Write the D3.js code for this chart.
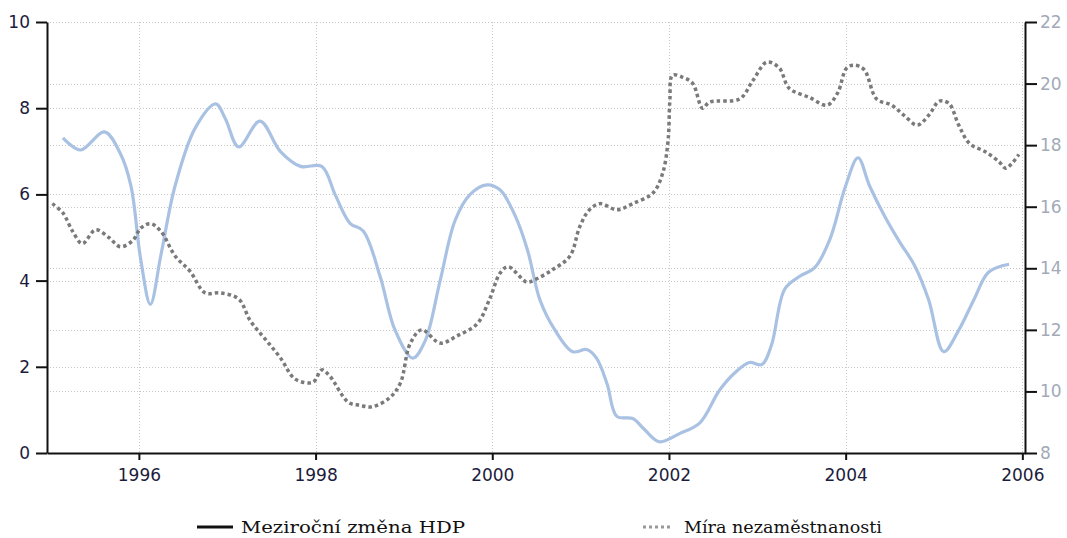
<!DOCTYPE html>
<html>
<head>
<meta charset="utf-8">
<script src="https://cdn.jsdelivr.net/npm/d3@7"></script>
<style>
  body { margin: 0; background: #fff; }
  svg { display: block; }
  .tick text { font-family: "DejaVu Sans", Verdana, sans-serif; }
</style>
</head>
<body>
<div id="chart"></div>
<script>
// data: [decimal year, value]
const gdpYears = [1995.14, 1995.34, 1995.61, 1995.79, 1995.91, 1996.02, 1996.13, 1996.25, 1996.41, 1996.64,
  1996.87, 1996.98, 1997.13, 1997.37, 1997.60, 1997.83, 1998.07, 1998.22, 1998.39, 1998.54,
  1998.73, 1998.90, 1999.10, 1999.24, 1999.41, 1999.58, 1999.75, 1999.94, 2000.09, 2000.26,
  2000.40, 2000.54, 2000.71, 2000.91, 2001.07, 2001.18, 2001.30, 2001.41, 2001.59, 2001.72,
  2001.89, 2002.12, 2002.35, 2002.57, 2002.74, 2002.91, 2003.05, 2003.16, 2003.31, 2003.48,
  2003.65, 2003.82, 2004.00, 2004.14, 2004.27, 2004.44, 2004.61, 2004.78, 2004.94, 2005.11,
  2005.28, 2005.45, 2005.62, 2005.85];
const gdpValues = [7.31, 7.03, 7.45, 6.95, 6.2, 4.5, 3.45, 4.6, 6.2, 7.55,
  8.1, 7.75, 7.1, 7.7, 7.0, 6.65, 6.65, 6.0, 5.33, 5.15,
  4.1, 2.85, 2.2, 2.6, 4.0, 5.4, 6.0, 6.22, 6.1, 5.5,
  4.7, 3.55, 2.85, 2.35, 2.4, 2.2, 1.6, 0.85, 0.8, 0.55,
  0.26, 0.45, 0.7, 1.45, 1.85, 2.1, 2.05, 2.5, 3.8, 4.1,
  4.3, 4.95, 6.2, 6.85, 6.2, 5.5, 4.9, 4.35, 3.55, 2.35,
  2.85, 3.55, 4.2, 4.38];

const unempYears = [1995.02, 1995.14, 1995.25, 1995.36, 1995.51, 1995.66, 1995.79, 1995.93, 1996.02, 1996.13,
  1996.25, 1996.41, 1996.58, 1996.75, 1996.92, 1997.13, 1997.26, 1997.43, 1997.60, 1997.77,
  1997.97, 1998.07, 1998.16, 1998.37, 1998.50, 1998.64, 1998.84, 1998.96, 1999.07, 1999.20,
  1999.41, 1999.60, 1999.83, 1999.97, 2000.09, 2000.18, 2000.39, 2000.46, 2000.68, 2000.88,
  2000.99, 2001.10, 2001.22, 2001.41, 2001.59, 2001.82, 2001.93, 2001.99, 2002.01, 2002.04,
  2002.16, 2002.27, 2002.38, 2002.46, 2002.80, 2002.95, 2003.11, 2003.25, 2003.36, 2003.59,
  2003.79, 2003.91, 2004.01, 2004.10, 2004.21, 2004.35, 2004.52, 2004.66, 2004.81, 2004.94,
  2005.06, 2005.17, 2005.28, 2005.40, 2005.59, 2005.74, 2005.81, 2005.88, 2005.96];
const unempValues = [16.1, 15.8, 15.2, 14.8, 15.25, 15.0, 14.7, 14.9, 15.3, 15.45,
  15.2, 14.4, 13.9, 13.2, 13.2, 13.0, 12.3, 11.7, 11.1, 10.4,
  10.3, 10.7, 10.5, 9.65, 9.55, 9.5, 9.8, 10.27, 11.55, 12.0,
  11.57, 11.8, 12.2, 13.0, 13.85, 14.05, 13.55, 13.6, 13.95, 14.4,
  15.35, 15.9, 16.1, 15.9, 16.1, 16.45, 17.1, 18.15, 19.45, 20.27,
  20.2, 20.0, 19.2, 19.4, 19.5, 20.1, 20.7, 20.5, 19.85, 19.55,
  19.3, 19.7, 20.5, 20.6, 20.45, 19.5, 19.3, 18.97, 18.65, 18.97,
  19.43, 19.35, 18.65, 18.06, 17.77, 17.45, 17.25, 17.4, 17.7];

const yearTicks = [1996, 1998, 2000, 2002, 2004, 2006];
const leftTicks = [0, 2, 4, 6, 8, 10];
const rightTicks = [8, 10, 12, 14, 16, 18, 20, 22];
const legendLabels = ["Meziroční změna HDP", "Míra nezaměstnanosti"];

const gdpData = gdpYears.map((y, i) => ({ year: y, value: gdpValues[i] }));
const unempData = unempYears.map((y, i) => ({ year: y, value: unempValues[i] }));

// MARGIN CONVENTIONS
const outerWidth = 1067;
const outerHeight = 538;
const margin = { top: 22, right: 42, bottom: 85, left: 47 };
const width = outerWidth - margin.left - margin.right;
const height = outerHeight - margin.top - margin.bottom;

const svg = d3.select("#chart").append("svg")
  .attr("width", outerWidth)
  .attr("height", outerHeight);

const g = svg.append("g")
  .attr("transform", `translate(${margin.left}, ${margin.top})`);

// scales
const x = d3.scaleLinear().domain([1994.96, 2006.03]).range([0, width]);
const yLeft = d3.scaleLinear().domain([0, 10]).range([height, 0]);
const yRight = d3.scaleLinear().domain([8, 22]).range([height, 0]);

// dotted grid
const grid = g.append("g")
  .attr("stroke", "#c8c8c8")
  .attr("stroke-width", 1)
  .attr("stroke-dasharray", "1,2");

grid.selectAll(".hl").data(leftTicks.slice(1))
  .join("line")
  .attr("x1", 0).attr("x2", width)
  .attr("y1", d => Math.round(yLeft(d)) + 0.5)
  .attr("y2", d => Math.round(yLeft(d)) + 0.5);

grid.selectAll(".hr").data(rightTicks.slice(1))
  .join("line")
  .attr("x1", 0).attr("x2", width)
  .attr("y1", d => Math.round(yRight(d)) + 0.5)
  .attr("y2", d => Math.round(yRight(d)) + 0.5);

grid.selectAll(".v").data(yearTicks)
  .join("line")
  .attr("x1", d => Math.round(x(d)) + 0.5)
  .attr("x2", d => Math.round(x(d)) + 0.5)
  .attr("y1", 0).attr("y2", height);

// lines
const line = d3.line()
  .x(d => x(d.year))
  .curve(d3.curveCatmullRom.alpha(0.5));

g.append("path")
  .attr("d", line.y(d => yLeft(d.value))(gdpData))
  .attr("fill", "none")
  .attr("stroke", "#a9c1e2")
  .attr("stroke-width", 3.2)
  .attr("stroke-linejoin", "round");

g.append("path")
  .attr("d", line.y(d => yRight(d.value))(unempData))
  .attr("fill", "none")
  .attr("stroke", "#7a7a7a")
  .attr("stroke-width", 3.5)
  .attr("stroke-dasharray", "3.5,3");

// axes
const xAxis = g.append("g")
  .attr("transform", `translate(0, ${height})`)
  .call(d3.axisBottom(x).tickValues(yearTicks).tickFormat(d3.format("d")).tickSize(7).tickSizeOuter(0).tickPadding(9));

const leftAxis = g.append("g")
  .call(d3.axisLeft(yLeft).tickValues(leftTicks).tickSize(11).tickSizeOuter(0).tickPadding(6));

const rightAxis = g.append("g")
  .attr("transform", `translate(${width}, 0)`)
  .call(d3.axisRight(yRight).tickValues(rightTicks).tickSize(12).tickSizeOuter(0).tickPadding(3));

[xAxis, leftAxis, rightAxis].forEach(a => {
  a.select(".domain").attr("stroke", "#111").attr("stroke-width", 2);
  a.selectAll(".tick line").attr("stroke", "#111").attr("stroke-width", 2);
  a.selectAll(".tick text").attr("font-size", 17).attr("fill", "#1c1c3c");
});
rightAxis.selectAll(".tick text").attr("fill", "#a2aab8");

// legend
const legend = svg.append("g")
  .attr("font-family", "'DejaVu Serif', 'Liberation Serif', serif")
  .attr("font-size", 16)
  .attr("fill", "#111");

legend.append("line")
  .attr("x1", 197).attr("x2", 233)
  .attr("y1", 527).attr("y2", 527)
  .attr("stroke", "#111").attr("stroke-width", 3);
legend.append("text")
  .attr("x", 241).attr("y", 533)
  .attr("textLength", 224).attr("lengthAdjust", "spacingAndGlyphs")
  .text(legendLabels[0]);

legend.append("line")
  .attr("x1", 643).attr("x2", 673)
  .attr("y1", 527).attr("y2", 527)
  .attr("stroke", "#999").attr("stroke-width", 3)
  .attr("stroke-dasharray", "3,3");
legend.append("text")
  .attr("x", 684).attr("y", 533)
  .attr("textLength", 198).attr("lengthAdjust", "spacingAndGlyphs")
  .text(legendLabels[1]);
</script>
</body>
</html>
